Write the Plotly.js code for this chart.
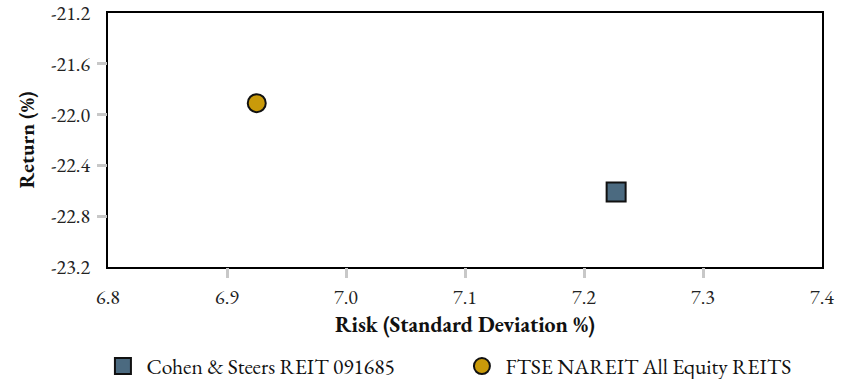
<!DOCTYPE html>
<html>
<head>
<meta charset="utf-8">
<script src="https://cdn.plot.ly/plotly-3.0.1.min.js"></script>
<style>html,body{margin:0;padding:0;background:#fff;}</style>
</head>
<body>
<div id="chart" style="width:852px;height:379px;"></div>
<script>
const seriesNames = ["Cohen & Steers REIT 091685", "FTSE NAREIT All Equity REITS"];
const riskValues = [7.227, 6.925];
const returnValues = [-22.61, -21.91];
const xTickVals = [6.8, 6.9, 7.0, 7.1, 7.2, 7.3, 7.4];
const xTickText = ["6.8", "6.9", "7.0", "7.1", "7.2", "7.3", "7.4"];
const yTickVals = [-23.2, -22.8, -22.4, -22.0, -21.6, -21.2];
const yTickText = ["-23.2", "-22.8", "-22.4", "-22.0", "-21.6", "-21.2"];

const FONT = "EB Garamond, Liberation Serif, serif";
const traces = [
  {
    x: [riskValues[0]], y: [returnValues[0]], name: seriesNames[0],
    type: "scatter", mode: "markers",
    marker: {symbol: "square", size: 19, color: "#4B6A80", line: {color: "#111", width: 2}}
  },
  {
    x: [riskValues[1]], y: [returnValues[1]], name: seriesNames[1],
    type: "scatter", mode: "markers",
    marker: {symbol: "circle", size: 18, color: "#C99A0A", line: {color: "#111", width: 2}}
  },
  {
    x: [null], y: [null], xaxis: "x2", yaxis: "y2", showlegend: false, hoverinfo: "skip",
    type: "scatter", mode: "markers"
  }
];

const layout = {
  width: 852, height: 379,
  margin: {l: 108, r: 30, t: 13, b: 112, autoexpand: false},
  paper_bgcolor: "#fff", plot_bgcolor: "#fff",
  font: {family: FONT, size: 20, color: "#111"},
  showlegend: true,
  legend: {orientation: "h", x: -0.012, xanchor: "left", y: -0.39, yanchor: "middle",
           font: {family: FONT, size: 21.5, color: "#111"}, entrywidth: 307, entrywidthmode: "pixels",
           itemwidth: 37, tracegroupgap: 0},
  xaxis: {
    range: [6.8, 7.4], tickvals: xTickVals, ticktext: xTickText,
    ticks: "outside", ticklen: 11, tickcolor: "rgba(0,0,0,0)",
    showgrid: false, zeroline: false, showline: true, linecolor: "#000", linewidth: 2, mirror: true,
    automargin: false,
    tickfont: {family: FONT, size: 20, color: "#222"},
    title: {text: "<b>Risk (Standard Deviation %)</b>", font: {family: FONT, size: 21.8, color: "#111"}, standoff: 8}
  },
  yaxis: {
    range: [-23.2, -21.2], tickvals: yTickVals, ticktext: yTickText,
    ticks: "outside", ticklen: 12, tickcolor: "rgba(0,0,0,0)",
    showgrid: false, zeroline: false, showline: true, linecolor: "#000", linewidth: 2, mirror: true,
    automargin: false,
    tickfont: {family: FONT, size: 20, color: "#222"},
    title: {text: "<b>Return (%)</b>", font: {family: FONT, size: 21, color: "#111"}, standoff: 11}
  },
  xaxis2: {
    overlaying: "x", range: [6.8, 7.4], tickvals: xTickVals.slice(1, -1), showticklabels: false,
    ticks: "outside", ticklen: 10, tickwidth: 3, tickcolor: "#c8c8c8",
    showgrid: false, zeroline: false, showline: false
  },
  yaxis2: {
    overlaying: "y", range: [-23.2, -21.2], tickvals: yTickVals.slice(1, -1), showticklabels: false,
    ticks: "outside", ticklen: 10, tickwidth: 3, tickcolor: "#c8c8c8",
    showgrid: false, zeroline: false, showline: false
  }
};

Plotly.newPlot("chart", traces, layout, {displayModeBar: false, staticPlot: true});
</script>
</body>
</html>
